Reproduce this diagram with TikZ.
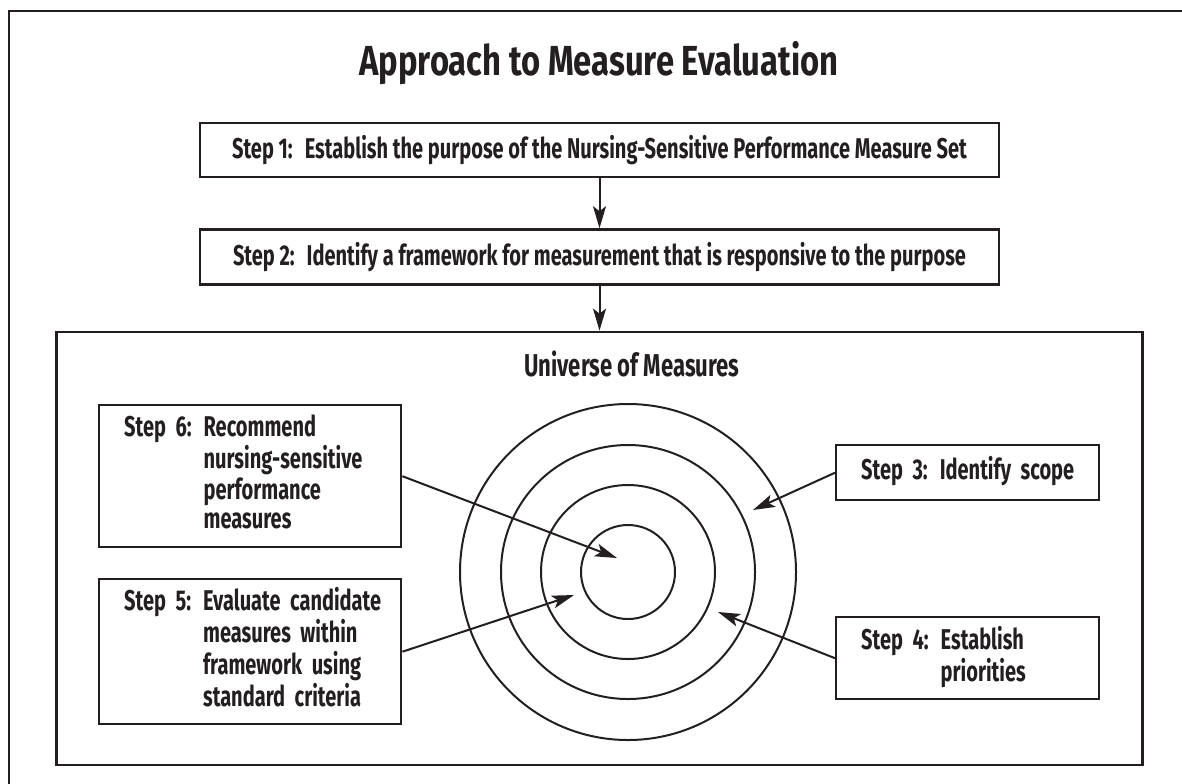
\documentclass[tikz,border=0pt]{standalone}
\usepackage{fontspec}
\setmainfont{Fira Sans}[FakeStretch=0.70]
\newfontfamily\headfont{Fira Sans}[FakeStretch=0.78]
\usepackage{xcolor}
\usepackage{tikz}
\usetikzlibrary{positioning,arrows.meta}
\definecolor{InkBlack}{RGB}{35,31,32}

\begin{document}
\begin{tikzpicture}[
        x=0.5pt, y=-0.5pt,
        % Style for the step boxes
        stepbox/.style={
            rectangle,
            draw=InkBlack,
            line width=1.2pt,
            inner sep=0pt,
            text=InkBlack,
            font=\bfseries\fontsize{14.3}{14.75}\selectfont
        },
        % Style for the side boxes (left aligned)
        sidebox/.style={
            stepbox,
            align=left,
            inner xsep=12.5pt
        },
        % Style for the arrows
        flowarrow/.style={
            draw=InkBlack,
            line width=1pt,
            -{Stealth[length=11pt,width=6.5pt,inset=2.5pt]}
        },
        % Style for the rings
        ring/.style={
            draw=InkBlack,
            line width=1pt
        }
    ]

        \useasboundingbox (0,0) rectangle (1182,783);

        % --- OUTER FRAME ---
        \begin{scope}
            \clip (0,0) rectangle (1182,783);
            \draw[InkBlack, line width=1.4pt] (9,11) rectangle (1191,800);
        \end{scope}

        % --- TITLE ---
        \node[anchor=base, text=InkBlack, font=\headfont\bfseries\fontsize{21}{24}\selectfont]
            (title) at (599,75) {Approach to Measure Evaluation};

        % --- STEPS 1 AND 2 ---
        \node[stepbox, minimum width=399.5pt, minimum height=27pt] (step1) at (599.5,150)
            {Step 1:\hspace{6pt}Establish the purpose of the Nursing-Sensitive Performance Measure Set};
        \node[stepbox, minimum width=399.5pt, minimum height=27.5pt, below=25pt of step1] (step2)
            {Step 2:\hspace{6pt}Identify a framework for measurement that is responsive to the purpose};

        % --- UNIVERSE BOX ---
        \node[draw=InkBlack, line width=1.2pt, minimum width=543pt, minimum height=216.5pt,
            inner sep=0pt, below=22.5pt of step2] (universe) {};
        \node[anchor=base, text=InkBlack, font=\bfseries\fontsize{15.8}{17}\selectfont]
            (unilabel) at (632,376) {Universe of Measures};

        % --- RINGS ---
        \coordinate (ctr) at (628,572);
        \foreach \r in {47,87,127,168} {
            \draw[ring] (ctr) circle[radius=\r];
        }

        % --- SIDE BOXES ---
        \node[sidebox, text width=126pt, minimum height=71pt, anchor=north west] (step6) at (98,404)
            {\begin{tabular}{@{}l@{\hspace{6pt}}l@{}}
                Step 6: & Recommend\\
                        & nursing-sensitive\\
                        & performance\\
                        & measures
            \end{tabular}};
        \node[sidebox, text width=126pt, minimum height=72.5pt, anchor=north west] (step5) at (98,578)
            {\begin{tabular}{@{}l@{\hspace{6pt}}l@{}}
                Step 5: & Evaluate candidate\\
                        & measures within\\
                        & framework using\\
                        & standard criteria
            \end{tabular}};
        \node[sidebox, text width=106.5pt, minimum height=27.5pt, anchor=north west] (step3) at (835,444)
            {\begin{tabular}{@{}l@{\hspace{6pt}}l@{}}
                Step 3: & Identify scope
            \end{tabular}};
        \node[sidebox, text width=106.5pt, minimum height=41pt, anchor=north west] (step4) at (835,616)
            {\begin{tabular}{@{}l@{\hspace{6pt}}l@{}}
                Step 4: & Establish\\
                        & priorities
            \end{tabular}};

        % --- ARROW TIPS INSIDE THE RINGS ---
        \coordinate (tip6) at (617,558);
        \coordinate (tip5) at (574,595);
        \coordinate (tip3) at (753,510);
        \coordinate (tip4) at (718,612);

        % --- ARROWS ---
        \draw[flowarrow] (step1) -- (step2);
        \draw[flowarrow] (step2) -- (universe);
        \draw[flowarrow] (step6.east) -- (tip6);
        \draw[flowarrow] (step5.east) -- (tip5);
        \draw[flowarrow] (step3.west) -- (tip3);
        \draw[flowarrow] (step4.west) -- (tip4);

    \end{tikzpicture}
\end{document}
